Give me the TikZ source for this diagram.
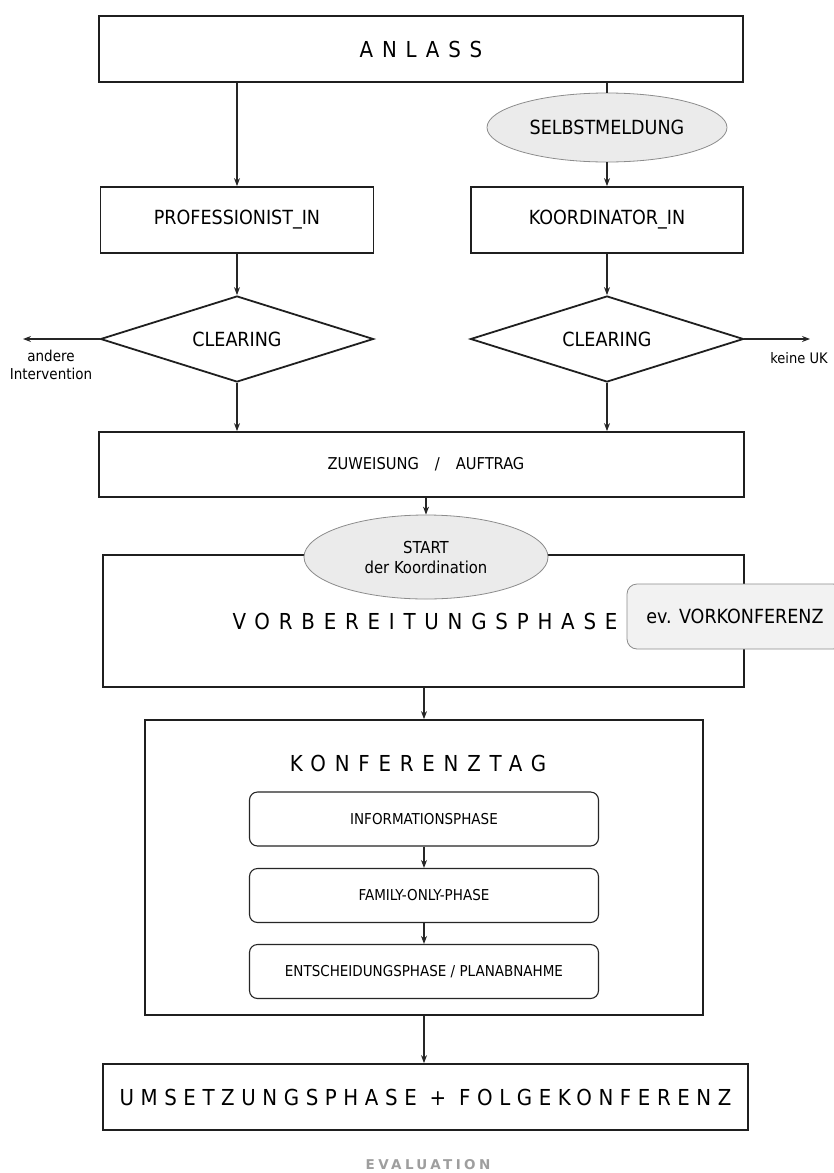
\documentclass[tikz,border=0pt]{standalone}
\usepackage{fontspec}
\setmainfont{DejaVu Sans Condensed}
\newfontfamily\titlefont[LetterSpace=40]{DejaVu Sans Condensed}
\newfontfamily\umsfont[LetterSpace=30]{DejaVu Sans Condensed}
\newfontfamily\evalfont[LetterSpace=25]{DejaVu Sans}
\usetikzlibrary{shapes.geometric,arrows.meta}
\begin{document}
\begin{tikzpicture}[x=1pt,y=-1pt,
  box/.style={draw=black!88,line width=1.8pt,rectangle,inner sep=0pt,fill=white},
  decide/.style={draw=black!88,line width=1.8pt,diamond,inner sep=0pt,minimum width=273pt,minimum height=86pt},
  oval/.style={ellipse,draw=black!45,line width=0.8pt,fill=black!8,inner sep=0pt},
  phasebox/.style={draw=black!85,line width=1.1pt,rounded corners=8pt,minimum width=349pt,minimum height=54pt,inner sep=0pt,font=\fontsize{15}{18}\selectfont},
  flow/.style={-{Stealth[length=8pt,width=6pt]},line width=1.1pt,draw=black!85},
  plain/.style={line width=1.1pt,draw=black!85},
  lbl/.style={font=\fontsize{19.5}{23}\selectfont},
  small/.style={font=\fontsize{15}{18}\selectfont,align=center},
  title/.style={font=\titlefont\fontsize{22}{26}\selectfont}
]
\useasboundingbox (0,0) rectangle (834,1173);
\clip (0,0) rectangle (834,1173);

\node[box,minimum width=644pt,minimum height=66pt,title] (anlass) at (421,49) {ANLASS};
\node[oval,minimum width=240pt,minimum height=69pt,lbl] (selbst) at (607,127.5) {SELBSTMELDUNG};
\node[box,minimum width=273pt,minimum height=66pt,lbl] (prof) at (237,220) {PROFESSIONIST\_IN};
\node[box,minimum width=272pt,minimum height=66pt,lbl] (koord) at (607,220) {KOORDINATOR\_IN};
\node[decide] (clear1) at (237,339) {};
\node[lbl] (clear1text) at (clear1.center) {CLEARING};
\node[decide] (clear2) at (607,339) {};
\node[lbl] (clear2text) at (clear2.center) {CLEARING};
\coordinate (outL) at (23,339);
\coordinate (outR) at (810,339);
\node[small] (andere) at (51,365) {andere\\Intervention};
\node[small,font=\fontsize{14.5}{17}\selectfont] (keine) at (799,358) {keine UK};

\node[box,minimum width=645pt,minimum height=65pt] (zuw) at (421.5,464.5) {};
\node[font=\fontsize{16.3}{19}\selectfont] (zuwtext) at (426,464) {ZUWEISUNG\hspace{16pt}/\hspace{16pt}AUFTRAG};

\node[box,minimum width=641pt,minimum height=132pt] (vorb) at (423.5,621) {};
\node[title] (vorbtext) at (425,621) {VORBEREITUNGSPHASE};
\node[oval,minimum width=244pt,minimum height=84pt,align=center,font=\fontsize{16.5}{20}\selectfont] (start) at (426,557) {START\\der Koordination};
\node[draw=black!45,line width=0.8pt,fill=black!5,rounded corners=10pt,minimum width=216pt,minimum height=65pt,inner sep=0pt,font=\fontsize{19.5}{23}\selectfont] (vork) at (735,616.5) {ev. VORKONFERENZ};

\node[box,minimum width=558pt,minimum height=295pt] (konf) at (424,867.5) {};
\node[title] (konftext) at (418,763) {KONFERENZTAG};
\node[phasebox] (info) at (424,819) {INFORMATIONSPHASE};
\node[phasebox] (fam) at (424,895.5) {FAMILY-ONLY-PHASE};
\node[phasebox] (ent) at (424,971.5) {ENTSCHEIDUNGSPHASE / PLANABNAHME};

\node[box,minimum width=645pt,minimum height=66pt,font=\umsfont\fontsize{22}{26}\selectfont] (ums) at (425.5,1097) {UMSETZUNGSPHASE + FOLGEKONFERENZ};
\node[font=\evalfont\bfseries\fontsize{13.5}{16}\selectfont,text=black!38,inner sep=0pt] (eval) at (428,1165) {EVALUATION};

\draw[flow] (anlass.south -| prof.north) -- (prof.north);
\draw[plain] (anlass.south -| selbst.north) -- (selbst.north);
\draw[flow] (selbst.south) -- (koord.north);
\draw[flow] (prof.south) -- (clear1.north);
\draw[flow] (koord.south) -- (clear2.north);
\draw[flow] (clear1.west) -- (outL);
\draw[flow] (clear2.east) -- (outR);
\draw[flow] (clear1.south) -- (clear1.south |- zuw.north);
\draw[flow] (clear2.south) -- (clear2.south |- zuw.north);
\draw[flow] (start.north |- zuw.south) -- (start.north);
\draw[flow] (konf.north |- vorb.south) -- (konf.north);
\draw[flow] (info.south) -- (fam.north);
\draw[flow] (fam.south) -- (ent.north);
\draw[flow] (konf.south) -- (konf.south |- ums.north);
\end{tikzpicture}
\end{document}
